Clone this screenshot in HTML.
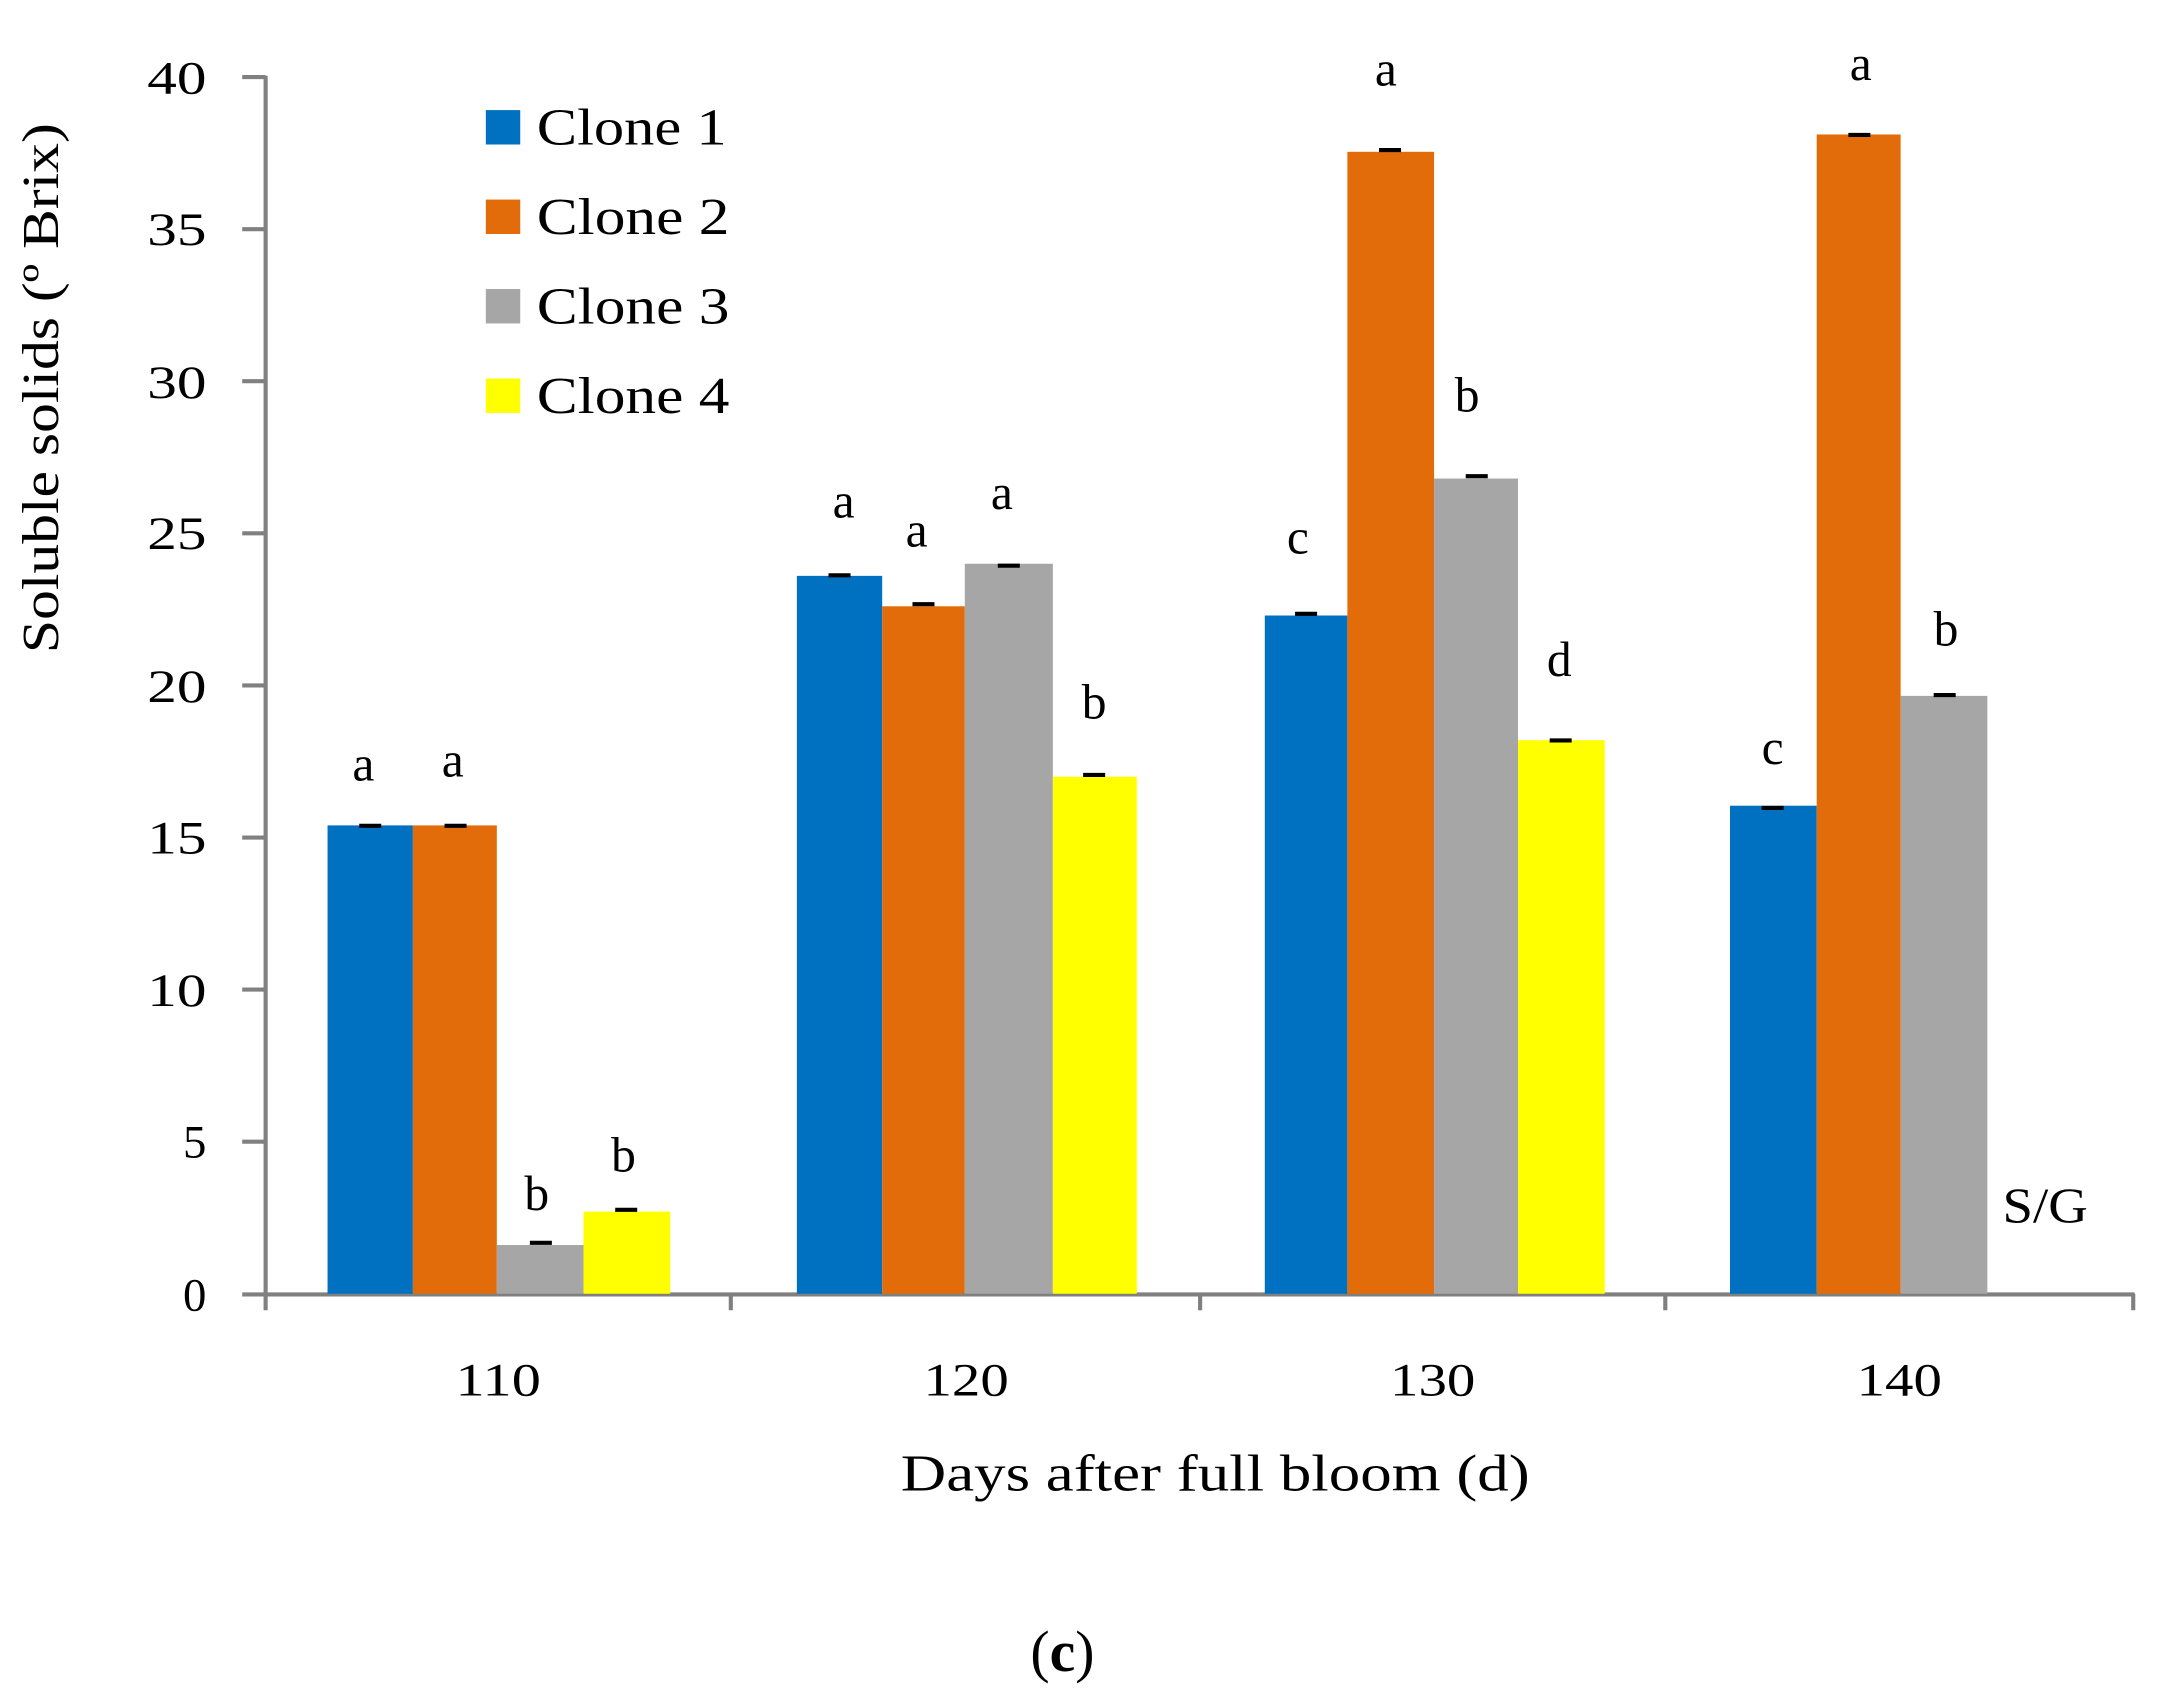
<!DOCTYPE html>
<html><head><meta charset="utf-8"><style>
html,body{margin:0;padding:0;background:#fff;}
svg{display:block;}
text{font-family:"Liberation Serif",serif;fill:#000;}
</style></head><body>
<svg width="2158" height="1694" viewBox="0 0 1568 1230.8" preserveAspectRatio="none" xmlns="http://www.w3.org/2000/svg">
<rect width="1568" height="1231" fill="#fff"/>
<g stroke="#808080" stroke-width="3" fill="none">
<line x1="193" y1="55" x2="193" y2="952"/>
<line x1="176" y1="940.5" x2="1551" y2="940.5"/>
<line x1="176" y1="56" x2="193" y2="56"/>
<line x1="176" y1="166.5" x2="193" y2="166.5"/>
<line x1="176" y1="277" x2="193" y2="277"/>
<line x1="176" y1="387.5" x2="193" y2="387.5"/>
<line x1="176" y1="498" x2="193" y2="498"/>
<line x1="176" y1="608.5" x2="193" y2="608.5"/>
<line x1="176" y1="719" x2="193" y2="719"/>
<line x1="176" y1="829.5" x2="193" y2="829.5"/>
<line x1="531" y1="940" x2="531" y2="952"/>
<line x1="872" y1="940" x2="872" y2="952"/>
<line x1="1210" y1="940" x2="1210" y2="952"/>
<line x1="1550" y1="940" x2="1550" y2="952"/>
</g>
<g font-size="34" text-anchor="end" lengthAdjust="spacingAndGlyphs">
<text x="150" y="68" textLength="43" lengthAdjust="spacingAndGlyphs">40</text>
<text x="150" y="178" textLength="43" lengthAdjust="spacingAndGlyphs">35</text>
<text x="150" y="289" textLength="43" lengthAdjust="spacingAndGlyphs">30</text>
<text x="150" y="399" textLength="43" lengthAdjust="spacingAndGlyphs">25</text>
<text x="150" y="510" textLength="43" lengthAdjust="spacingAndGlyphs">20</text>
<text x="150" y="620" textLength="43" lengthAdjust="spacingAndGlyphs">15</text>
<text x="150" y="731" textLength="43" lengthAdjust="spacingAndGlyphs">10</text>
<text x="150" y="841">5</text>
<text x="150" y="952">0</text>
</g>
<text transform="translate(42,282) rotate(-90)" font-size="38" text-anchor="middle" textLength="385" lengthAdjust="spacingAndGlyphs">Soluble solids (º Brix)</text>
<g font-size="34" text-anchor="middle">
<text x="362" y="1014" textLength="62" lengthAdjust="spacingAndGlyphs">110</text>
<text x="702" y="1014" textLength="62" lengthAdjust="spacingAndGlyphs">120</text>
<text x="1041" y="1014" textLength="62" lengthAdjust="spacingAndGlyphs">130</text>
<text x="1380" y="1014" textLength="62" lengthAdjust="spacingAndGlyphs">140</text>
</g>
<text x="883" y="1083" font-size="38" text-anchor="middle" textLength="457" lengthAdjust="spacingAndGlyphs">Days after full bloom (d)</text>
<text x="772" y="1214" font-size="42" text-anchor="middle"><tspan>(</tspan><tspan font-weight="bold">c</tspan><tspan>)</tspan></text>
<g>
<rect x="238" y="599.7" width="62" height="340.3" fill="#0070c0"/>
<rect x="300" y="599.7" width="61" height="340.3" fill="#e36c0a"/>
<rect x="361" y="904.6" width="63" height="35.4" fill="#a6a6a6"/>
<rect x="424" y="880.3" width="63" height="59.7" fill="#ffff00"/>
<rect x="579" y="418.4" width="62" height="521.6" fill="#0070c0"/>
<rect x="641" y="440.5" width="60" height="499.5" fill="#e36c0a"/>
<rect x="701" y="409.6" width="64" height="530.4" fill="#a6a6a6"/>
<rect x="765" y="564.3" width="61" height="375.7" fill="#ffff00"/>
<rect x="919" y="447.2" width="60" height="492.8" fill="#0070c0"/>
<rect x="979" y="110.3" width="63" height="829.7" fill="#e36c0a"/>
<rect x="1042" y="347.7" width="61" height="592.3" fill="#a6a6a6"/>
<rect x="1103" y="537.8" width="63" height="402.2" fill="#ffff00"/>
<rect x="1257" y="585.4" width="63" height="354.6" fill="#0070c0"/>
<rect x="1320" y="97.7" width="61" height="842.3" fill="#e36c0a"/>
<rect x="1381" y="505.6" width="63" height="434.4" fill="#a6a6a6"/>
</g>
<g stroke="#000" stroke-width="3">
<line x1="261" y1="600" x2="277" y2="600"/>
<line x1="323" y1="600" x2="339" y2="600"/>
<line x1="385" y1="903" x2="401" y2="903"/>
<line x1="447" y1="879" x2="463" y2="879"/>
<line x1="602" y1="418" x2="618" y2="418"/>
<line x1="663" y1="439" x2="679" y2="439"/>
<line x1="725" y1="411" x2="741" y2="411"/>
<line x1="787" y1="563" x2="803" y2="563"/>
<line x1="941" y1="446" x2="957" y2="446"/>
<line x1="1002" y1="109" x2="1018" y2="109"/>
<line x1="1065" y1="346" x2="1081" y2="346"/>
<line x1="1126" y1="538" x2="1142" y2="538"/>
<line x1="1280" y1="587" x2="1296" y2="587"/>
<line x1="1343" y1="98" x2="1359" y2="98"/>
<line x1="1405" y1="505" x2="1421" y2="505"/>
</g>
<g font-size="36" text-anchor="middle">
<text x="264" y="567">a</text>
<text x="329" y="564">a</text>
<text x="390" y="879">b</text>
<text x="453" y="851">b</text>
<text x="613" y="376">a</text>
<text x="666" y="397">a</text>
<text x="728" y="370">a</text>
<text x="795" y="522">b</text>
<text x="943" y="402">c</text>
<text x="1007" y="62">a</text>
<text x="1066" y="299">b</text>
<text x="1133" y="491">d</text>
<text x="1288" y="555">c</text>
<text x="1352" y="58">a</text>
<text x="1414" y="469">b</text>
<text x="1486" y="888" textLength="62" lengthAdjust="spacingAndGlyphs">S/G</text>
</g>
<rect x="353" y="80" width="25" height="25" fill="#0070c0"/>
<rect x="353" y="145" width="25" height="25" fill="#e36c0a"/>
<rect x="353" y="210" width="25" height="25" fill="#a6a6a6"/>
<rect x="353" y="275" width="25" height="25" fill="#ffff00"/>
<g font-size="38">
<text x="390" y="105" textLength="138" lengthAdjust="spacingAndGlyphs">Clone 1</text>
<text x="390" y="170" textLength="140" lengthAdjust="spacingAndGlyphs">Clone 2</text>
<text x="390" y="235" textLength="140" lengthAdjust="spacingAndGlyphs">Clone 3</text>
<text x="390" y="300" textLength="140" lengthAdjust="spacingAndGlyphs">Clone 4</text>
</g>
</svg>
</body></html>
